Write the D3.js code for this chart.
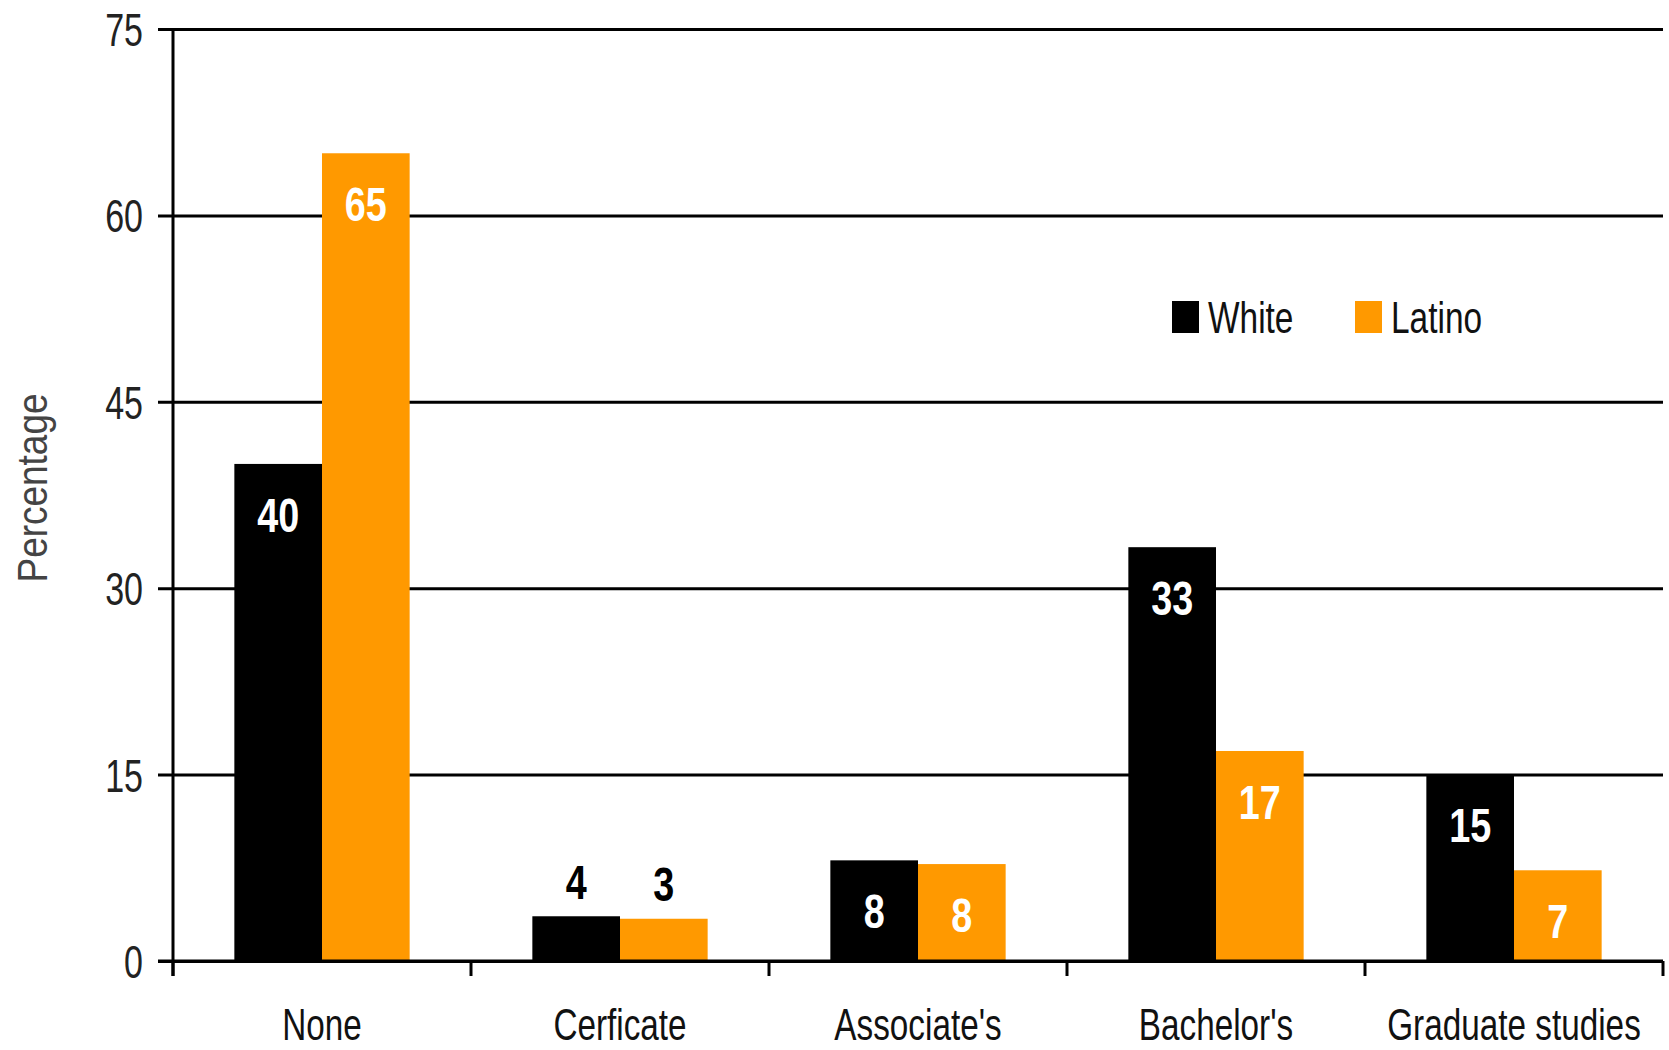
<!DOCTYPE html>
<html>
<head>
<meta charset="utf-8">
<script src="https://cdn.jsdelivr.net/npm/d3@7"></script>
<style>
  html, body { margin: 0; padding: 0; background: #fff; }
  svg { display: block; }
  text { font-family: "Liberation Sans", Arial, sans-serif; }
</style>
</head>
<body>
<svg id="chart" width="1669" height="1050"></svg>
<script>
// ---- data ----
const categories = ["None", "Cerficate", "Associate's", "Bachelor's", "Graduate studies"];
const seriesNames = ["White", "Latino"];
const whiteValues = [40, 3.6, 8.1, 33.3, 15.0];
const latinoValues = [65, 3.4, 7.8, 16.9, 7.3];
const yTicks = [0, 15, 30, 45, 60, 75];
const seriesColors = ["#000000", "#FF9900"];

// ---- layout ----
const NARROW = 0.74;
const svg = d3.select("#chart");
const margin = { left: 173, right: 6, top: 29, bottom: 89 };
const W = 1669, H = 1050;
const plotW = W - margin.left - margin.right;
const plotH = H - margin.top - margin.bottom;

const g = svg.append("g").attr("transform", `translate(${margin.left},${margin.top})`);

const x0 = d3.scaleBand().domain(categories).range([0, plotW]).padding(0);
const x1 = d3.scaleBand().domain(seriesNames).range([0, x0.bandwidth()]).paddingInner(0).paddingOuter(0.70);
const y = d3.scaleLinear().domain([0, 75]).range([plotH, 0]);
const color = d3.scaleOrdinal().domain(seriesNames).range(seriesColors);

const rows = categories.map((c, i) => ({
  cat: c,
  vals: [
    { s: "White", v: whiteValues[i] },
    { s: "Latino", v: latinoValues[i] }
  ]
}));

// ---- y axis with gridlines ----
const yAxis = d3.axisLeft(y).tickValues(yTicks).tickSize(-plotW).tickPadding(0).tickFormat(d3.format("d"));
const ya = g.append("g").call(yAxis);
ya.select(".domain").remove();
ya.selectAll(".tick line")
  .attr("x1", -15).attr("x2", plotW)
  .attr("stroke", "#000").attr("stroke-width", 3);
ya.selectAll(".tick text")
  .attr("x", 0).attr("dy", "0.36em")
  .attr("transform", `translate(-30,0) scale(${NARROW},1)`)
  .attr("fill", "#222")
  .style("font-size", "46px")
  .style("font-family", "\"Liberation Sans\", Arial, sans-serif");

// ---- bars ----
const groups = g.selectAll(".grp").data(rows).join("g")
  .attr("class", "grp")
  .attr("transform", d => `translate(${x0(d.cat)},0)`);

groups.selectAll("rect").data(d => d.vals).join("rect")
  .attr("x", d => x1(d.s))
  .attr("width", x1.bandwidth())
  .attr("y", d => y(d.v))
  .attr("height", d => plotH - y(d.v))
  .attr("fill", d => color(d.s));

// ---- value labels ----
const fmt = d3.format(".0f");
groups.selectAll("text.val").data(d => d.vals).join("text")
  .attr("class", "val")
  .attr("transform", d => {
    const cx = x1(d.s) + x1.bandwidth() / 2;
    const cy = d.v < 6 ? y(d.v) - 35 : y(d.v) + 50;
    return `translate(${cx},${cy}) scale(0.77,1)`;
  })
  .attr("dy", "0.36em")
  .attr("text-anchor", "middle")
  .attr("fill", d => d.v < 6 ? "#000" : "#fff")
  .style("font-size", "49px")
  .style("font-weight", "bold")
  .text(d => fmt(d.v));

// ---- x axis (baseline, boundary ticks, labels) ----
g.append("line")
  .attr("x1", -15).attr("x2", plotW)
  .attr("y1", y(0)).attr("y2", y(0))
  .attr("stroke", "#000").attr("stroke-width", 3);

const boundaries = categories.map(c => x0(c)).concat([x0(categories[categories.length - 1]) + x0.bandwidth()]);
g.selectAll("line.bt").data(boundaries).join("line")
  .attr("class", "bt")
  .attr("x1", d => d).attr("x2", d => d)
  .attr("y1", y(0)).attr("y2", y(0) + 15)
  .attr("stroke", "#000").attr("stroke-width", 3);

const xAxis = d3.axisBottom(x0).tickSize(0).tickPadding(0);
const xa = g.append("g").attr("transform", `translate(0,${plotH})`).call(xAxis);
xa.select(".domain").remove();
xa.selectAll(".tick text")
  .attr("y", 0).attr("dy", "0")
  .attr("transform", `translate(0,79) scale(${NARROW},1)`)
  .attr("fill", "#111")
  .style("font-size", "45px")
  .style("font-family", "\"Liberation Sans\", Arial, sans-serif");

// ---- y axis line ----
g.append("line")
  .attr("x1", 0).attr("x2", 0)
  .attr("y1", 0).attr("y2", y(0) + 15)
  .attr("stroke", "#000").attr("stroke-width", 3);

// ---- y title ----
svg.append("text")
  .attr("transform", "translate(47,488) rotate(-90) scale(0.88,1)")
  .attr("text-anchor", "middle")
  .attr("fill", "#444")
  .style("font-size", "42px")
  .text("Percentage");

// ---- legend ----
const legend = svg.append("g").attr("transform", "translate(1172,301)");
const legendX = [0, 183];
seriesNames.forEach((s, i) => {
  const lg = legend.append("g").attr("transform", `translate(${legendX[i]},0)`);
  lg.append("rect").attr("width", 27).attr("height", 32).attr("fill", color(s));
  lg.append("text")
    .attr("transform", `translate(36,16) scale(0.76,1)`)
    .attr("dy", "0.36em")
    .attr("fill", "#111")
    .style("font-size", "44px")
    .text(s);
});
</script>
</body>
</html>
